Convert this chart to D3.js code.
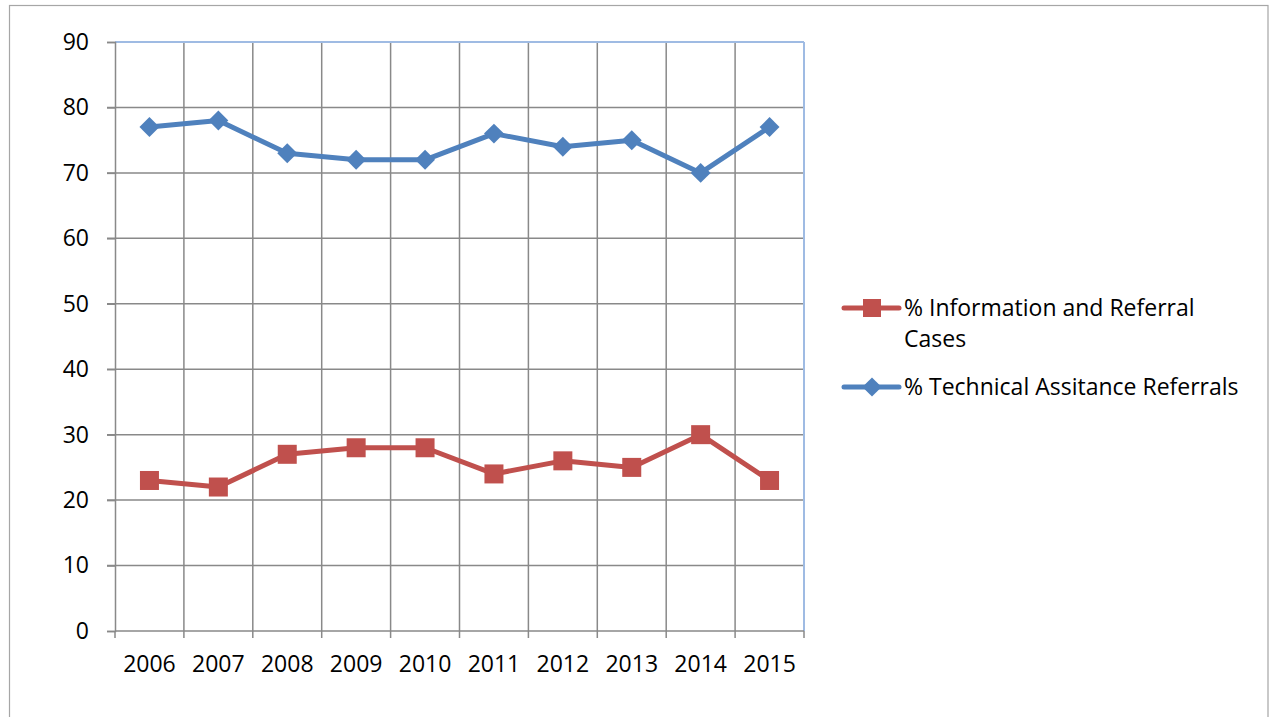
<!DOCTYPE html>
<html>
<head>
<meta charset="utf-8">
<script src="https://cdn.jsdelivr.net/npm/d3@7"></script>
<style>
  body { margin: 0; background: #fff; }
  text { font-family: "Open Sans", Calibri, sans-serif; fill: #000; }
</style>
</head>
<body>
<div id="chart"></div>
<script>
// data
var years = ["2006", "2007", "2008", "2009", "2010", "2011", "2012", "2013", "2014", "2015"];
var infoReferral = [23, 22, 27, 28, 28, 24, 26, 25, 30, 23];
var techAssist = [77, 78, 73, 72, 72, 76, 74, 75, 70, 77];
var yTicks = [0, 10, 20, 30, 40, 50, 60, 70, 80, 90];

var W = 1274, H = 717;
var margin = {top: 42, left: 115},
    width = 804 - 115,
    height = 631 - 42;
var fs = "23px";

var svg = d3.select("#chart").append("svg")
  .attr("width", W).attr("height", H);

// outer frame
svg.append("rect")
  .attr("x", 9.5).attr("y", 5.5)
  .attr("width", 1268 - 9.5).attr("height", 740)
  .attr("fill", "none").attr("stroke", "#a6a6a6").attr("stroke-width", 1.2);

var g = svg.append("g").attr("transform", "translate(" + margin.left + "," + margin.top + ")");

var x = d3.scaleBand().domain(years).range([0, width]);
var y = d3.scaleLinear().domain([0, 90]).range([height, 0]);

var grid = "#898989";

// horizontal grid + y tick marks
g.selectAll(".hgrid")
  .data(yTicks.filter(function(d) { return d > 0 && d < 90; }))
  .enter().append("line")
    .attr("x1", -8).attr("x2", width)
    .attr("y1", function(d) { return y(d); }).attr("y2", function(d) { return y(d); })
    .attr("stroke", grid).attr("stroke-width", 1.5);

// vertical grid
g.selectAll(".vgrid")
  .data(years.slice(1))
  .enter().append("line")
    .attr("x1", function(d) { return x(d); }).attr("x2", function(d) { return x(d); })
    .attr("y1", 0).attr("y2", height + 7)
    .attr("stroke", grid).attr("stroke-width", 1.5);

// plot area border top / right (light blue)
g.append("line").attr("x1", 0).attr("x2", width).attr("y1", 0).attr("y2", 0)
  .attr("stroke", "#9fbbe3").attr("stroke-width", 2);
g.append("line").attr("x1", width).attr("x2", width).attr("y1", 0).attr("y2", height)
  .attr("stroke", "#9fbbe3").attr("stroke-width", 2);

// axes
var yAxis = g.append("g").call(d3.axisLeft(y).tickValues(yTicks).tickSize(8).tickPadding(18));
yAxis.select(".domain").attr("stroke", grid).attr("stroke-width", 1.5);
yAxis.selectAll(".tick line").attr("stroke", grid).attr("stroke-width", 1.5);
yAxis.selectAll(".tick text").attr("font-size", fs).attr("fill", "#000")
  .style("font-family", "'Open Sans', sans-serif");

var xAxis = g.append("g").attr("transform", "translate(0," + height + ")")
  .call(d3.axisBottom(x).tickSize(0).tickPadding(25));
xAxis.select(".domain").remove();
xAxis.selectAll(".tick text").attr("font-size", fs).attr("fill", "#000")
  .style("font-family", "'Open Sans', sans-serif");
g.append("line").attr("x1", 0).attr("x2", width).attr("y1", height).attr("y2", height)
  .attr("stroke", grid).attr("stroke-width", 1.5);
g.append("line").attr("x1", 0).attr("x2", 0).attr("y1", height).attr("y2", height + 7)
  .attr("stroke", grid).attr("stroke-width", 1.5);
g.append("line").attr("x1", width).attr("x2", width).attr("y1", height).attr("y2", height + 7)
  .attr("stroke", grid).attr("stroke-width", 1.5);

var cx = function(i) { return x(years[i]) + x.bandwidth() / 2; };
var line = d3.line().x(function(d, i) { return cx(i); }).y(function(d) { return y(d); });

var red = "#c0504d", blue = "#4f81bd";

// technical assistance (blue, diamonds)
g.append("path").datum(techAssist)
  .attr("d", line).attr("fill", "none").attr("stroke", blue).attr("stroke-width", 5)
  .attr("stroke-linejoin", "round");
var diamond = d3.symbol().type(d3.symbolDiamond2).size(150);
g.selectAll(".dia").data(techAssist).enter().append("path")
  .attr("d", diamond)
  .attr("transform", function(d, i) { return "translate(" + cx(i) + "," + y(d) + ") scale(1.3)"; })
  .attr("fill", blue);

// information and referral (red, squares)
g.append("path").datum(infoReferral)
  .attr("d", line).attr("fill", "none").attr("stroke", red).attr("stroke-width", 5)
  .attr("stroke-linejoin", "round");
var sq = 19;
g.selectAll(".sq").data(infoReferral).enter().append("rect")
  .attr("x", function(d, i) { return cx(i) - sq / 2; })
  .attr("y", function(d) { return y(d) - sq / 2; })
  .attr("width", sq).attr("height", sq)
  .attr("fill", red);

// legend
var leg = svg.append("g");
leg.append("line").attr("x1", 844).attr("x2", 899).attr("y1", 308).attr("y2", 308)
  .attr("stroke", red).attr("stroke-width", 5).attr("stroke-linecap", "round");
leg.append("rect").attr("x", 872 - 9).attr("y", 308 - 9).attr("width", 18).attr("height", 18).attr("fill", red);
leg.append("text").attr("x", 904).attr("y", 316).attr("font-size", fs).text("% Information and Referral");
leg.append("text").attr("x", 904).attr("y", 347).attr("font-size", fs).text("Cases");

leg.append("line").attr("x1", 844).attr("x2", 899).attr("y1", 387).attr("y2", 387)
  .attr("stroke", blue).attr("stroke-width", 5).attr("stroke-linecap", "round");
leg.append("path").attr("d", diamond)
  .attr("transform", "translate(872,387) scale(1.25)").attr("fill", blue);
leg.append("text").attr("x", 904).attr("y", 395).attr("font-size", fs).text("% Technical Assitance Referrals");
</script>
</body>
</html>
